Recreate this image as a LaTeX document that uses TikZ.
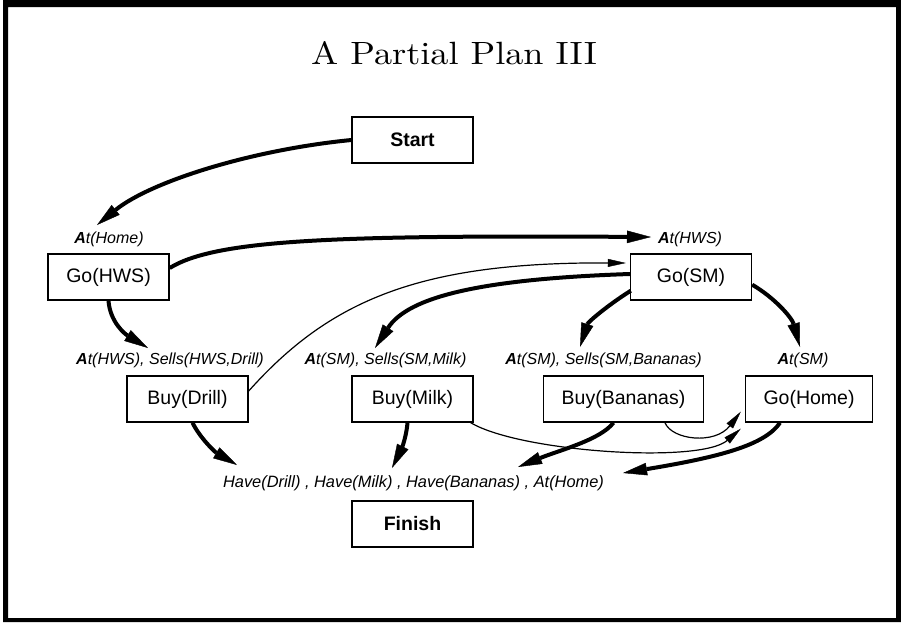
\documentclass[tikz,border=0pt]{standalone}
\usepackage{graphicx}
\usepackage{fontspec}
\newfontfamily\hv{Liberation Sans}
\usetikzlibrary{arrows.meta,calc}
\newcommand\bA{\textbf{A}}

\begin{document}
\begin{tikzpicture}[x=1pt,y=-1pt,
  box/.style={draw,line width=1.4pt,minimum width=121pt,minimum height=46pt,
    inner xsep=18pt,font=\hv\fontsize{19.5}{22}\selectfont},
  cond/.style={anchor=base,inner sep=0pt,font=\hv\itshape\fontsize{16}{18}\selectfont},
  strong/.style={line width=4pt,-{Triangle[length=24pt,width=12.5pt,line width=0.4pt]}},
  weak/.style={line width=1.2pt,-{Triangle[length=18pt,width=8pt,line width=0.4pt]}}]

% page and frame
\fill[white] (0,0) rectangle (901,622);
\useasboundingbox (0,0) rectangle (901,622);
\fill[black,even odd rule] (3,0) rectangle (901,622) (8,7) rectangle (896,618);

% title
\node[anchor=base,inner sep=0pt] (title) at (454,64.5)
  {\scalebox{3.62}[3.22]{\fontsize{10}{12}\selectfont A Partial Plan III}};

% steps
\node[box] (start)    at (412.5,140) {\textbf{Start}};
\node[box] (gohws)    at (108.5,277) {Go(HWS)};
\node[box] (gosm)     at (691,277)   {Go(SM)};
\node[box] (buydrill) at (187.5,399) {Buy(Drill)};
\node[box] (buymilk)  at (412.5,399) {Buy(Milk)};
\node[box] (buyban)   at (623.5,399) {Buy(Bananas)};
\node[box] (gohome)   at (809,399)   {Go(Home)};
\node[box] (finish)   at (412.5,524) {\textbf{Finish}};

% preconditions
\node[cond] (phome)  at (109,243)   {\bA t(Home)};
\node[cond] (phws)   at (690,243)   {\bA t(HWS)};
\node[cond] (pdrill) at (170,364)   {\bA t(HWS), Sells(HWS,Drill)};
\node[cond] (pmilk)  at (385.5,364) {\bA t(SM), Sells(SM,Milk)};
\node[cond] (pban)   at (603.5,364) {\bA t(SM), Sells(SM,Bananas)};
\node[cond] (psm)    at (803,364)   {\bA t(SM)};
\node[cond,font=\hv\itshape\fontsize{16.4}{18}\selectfont] (pgoal) at (413.5,487)
  {Have(Drill) , Have(Milk) , Have(Bananas) , At(Home)};

% arrow tips
\coordinate (tHome)  at (97,225);
\coordinate (tHWS)   at (651,237);
\coordinate (tDrill) at (148,348);
\coordinate (tMilk)  at (375,348);
\coordinate (tBan)   at (580,347);
\coordinate (tSM)    at (800,347);
\coordinate (gDrill) at (237,465);
\coordinate (gMilk)  at (392,468);
\coordinate (gBan)   at (518,467);
\coordinate (gHome)  at (623,473);

% causal links
\draw[strong] (start.west) .. controls (250,150) and (150,182) .. (tHome);
\draw[strong] ($(gohws.east)+(0,-9)$) .. controls (215,240) and (330,235) .. (tHWS);
\draw[strong] (gohws.south) .. controls (110,322) and (125,334) .. (tDrill);
\draw[strong] ($(gosm.west)+(0,-3)$) .. controls (480,279) and (408,297) .. (tMilk);
\draw[strong] ($(gosm.south west)+(1,-10)$) .. controls (608,305) and (588,322) .. (tBan);
\draw[strong] ($(gosm.south east)+(0,-16)$) .. controls (775,298) and (792,318) .. (tSM);
\draw[strong] ($(buydrill.south)+(5,0)$) .. controls (200,438) and (215,452) .. (gDrill);
\draw[strong] ($(buymilk.south)+(-5,0)$) .. controls (406,440) and (400,452) .. (gMilk);
\draw[strong] ($(buyban.south)+(-10,0)$) .. controls (600,440) and (560,450) .. (gBan);
\draw[strong] ($(gohome.south)+(-29,0)$) .. controls (765,445) and (720,457) .. (gHome);

% ordering constraints
\draw[weak] ($(buydrill.east)+(0,-8)$) .. controls (330,300) and (420,262) .. ($(gosm.west)+(-4,-14)$);
\draw[weak] ($(buyban.south east)+(-39,0)$) .. controls (672,440) and (715,445) .. ($(gohome.south west)+(-4,-11)$);
\draw[weak] ($(buymilk.south east)+(-3,0)$) .. controls (520,452) and (700,464) .. ($(gohome.south west)+(-4,6)$);
\end{tikzpicture}
\end{document}
